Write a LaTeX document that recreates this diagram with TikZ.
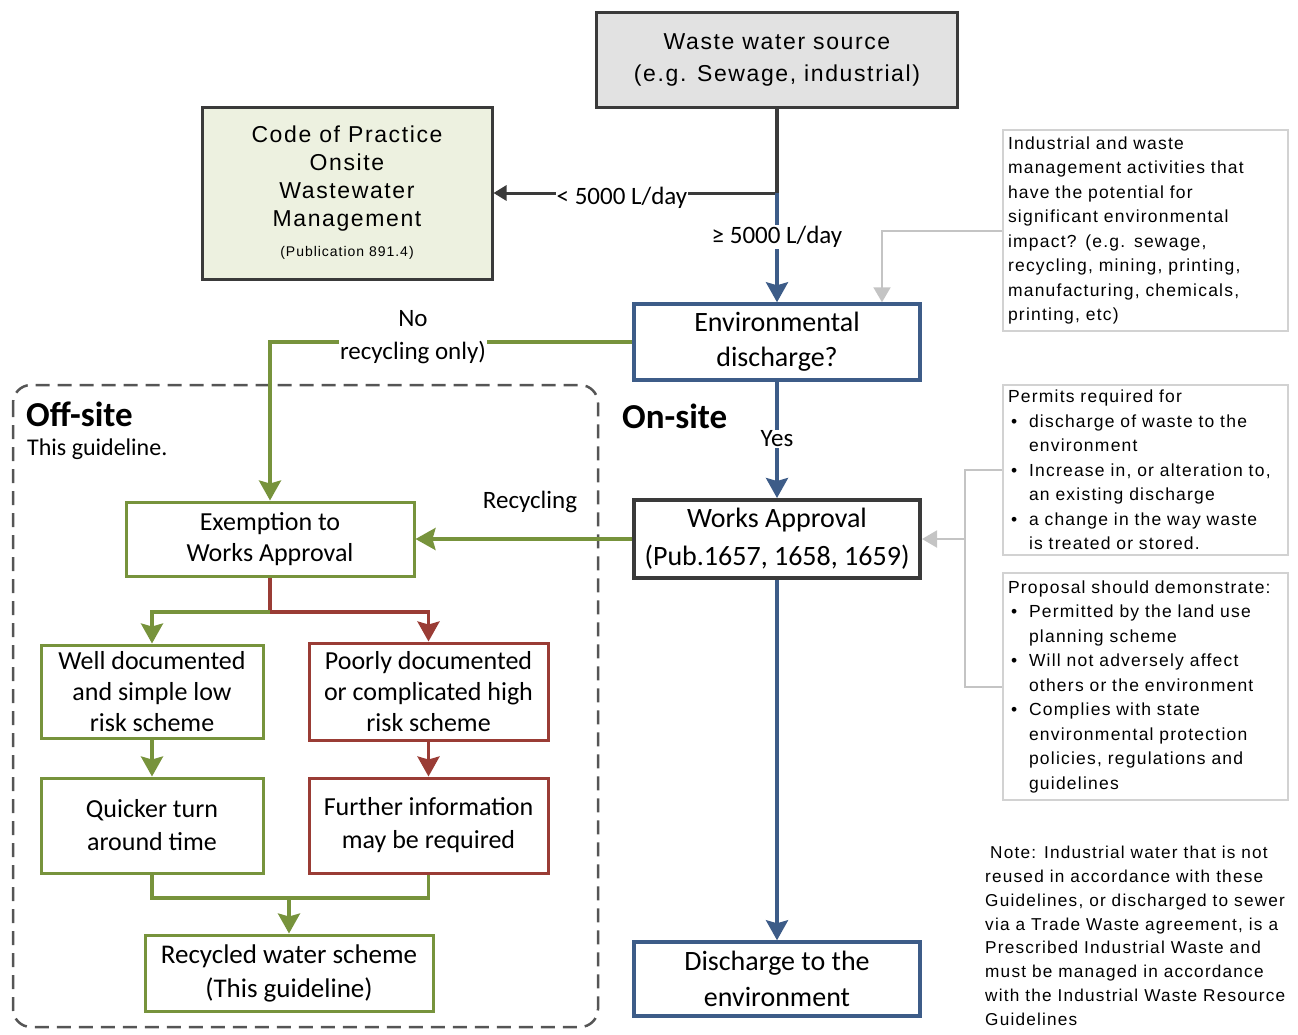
\documentclass[tikz,border=0pt]{standalone}
\usepackage{fontspec}
\setmainfont{Carlito}
\newfontfamily\arialf{Liberation Sans}[LetterSpace=7]
\usetikzlibrary{arrows.meta}
\definecolor{cblue}{HTML}{3D5C88}
\definecolor{cgreen}{HTML}{77933C}
\definecolor{cred}{HTML}{9A3C35}
\definecolor{cdark}{HTML}{3A3A3A}
\definecolor{cgrayline}{HTML}{C4C4C4}
\definecolor{cgraybox}{HTML}{D2D2D2}
\definecolor{cdash}{HTML}{555555}
\definecolor{cgrayfill}{HTML}{E2E2E2}
\definecolor{cgreenfill}{HTML}{EDF1E0}
\newcommand{\rbul}{\makebox[21pt][l]{\hspace{3pt}\textbullet}}
\newcommand{\rind}{\hspace*{21pt}}
\tikzset{
  box/.style={draw, align=center, inner sep=2pt, line width=3pt, text=black},
  bluebox/.style={box, draw=cblue},
  greenbox/.style={box, draw=cgreen},
  redbox/.style={box, draw=cred},
  darkbox/.style={box, draw=cdark},
  infobox/.style={draw=cgraybox, line width=2pt, align=left, inner sep=5pt, text width=275pt,
    font={\arialf\fontsize{17.5}{24.5}\selectfont}},
  conn/.style={line width=3.5pt},
  tip/.style={-{Stealth[length=20pt,width=22pt,inset=3pt]}},
  smalltip/.style={-{Triangle[length=13pt,width=15pt]}},
  graytip/.style={-{Triangle[length=15pt,width=17pt]}},
  greenline/.style={conn, draw=cgreen},
  redline/.style={conn, draw=cred},
  blueline/.style={conn, draw=cblue},
  darkline/.style={conn, draw=cdark},
  grayline/.style={line width=2pt, draw=cgrayline},
  lbl/.style={fill=white, inner sep=1pt, font={\fontsize{25}{33}\selectfont}, align=center},
  dashbox/.style={draw=cdash, line width=2.5pt, dash pattern=on 14pt off 8pt, rounded corners=18pt}
}
\begin{document}
\begin{tikzpicture}[x=1pt, y=-1pt]
\useasboundingbox (0,0) rectangle (1298,1034);

% dashed off-site region
\draw[dashbox] (13,385) rectangle (598,1027);

% main nodes
\node[darkbox, fill=cgrayfill, minimum width=361pt, minimum height=95pt,
  font={\arialf\fontsize{23}{32}\selectfont}] (src) at (777,59.5)
  {Waste water source\\(e.g. Sewage, industrial)};
\node[darkbox, fill=cgreenfill, minimum width=290pt, minimum height=172pt,
  font={\arialf\fontsize{23}{28}\selectfont}] (cop) at (347,193)
  {Code of Practice\\Onsite\\Wastewater\\Management\\[2pt]{\fontsize{14}{17}\selectfont (Publication 891.4)}};
\node[bluebox, line width=3.5pt, minimum width=286pt, minimum height=76pt,
  font={\fontsize{28}{35}\selectfont}] (env) at (777,342)
  {Environmental\\discharge?};
\node[darkbox, line width=4pt, minimum width=286pt, minimum height=78pt,
  font={\fontsize{28}{38}\selectfont}] (wa) at (777,539)
  {Works Approval\\(Pub.1657, 1658, 1659)};
\node[bluebox, line width=3.5pt, minimum width=286pt, minimum height=74pt,
  font={\fontsize{28}{36}\selectfont}] (dis) at (777,979)
  {Discharge to the\\environment};
\node[greenbox, minimum width=288pt, minimum height=74pt,
  font={\fontsize{26}{31}\selectfont}] (ex) at (270,539)
  {Exemption to\\Works Approval};
\node[greenbox, minimum width=222pt, minimum height=93pt,
  font={\fontsize{26}{31}\selectfont}] (well) at (152,691.5)
  {Well documented\\and simple low\\risk scheme};
\node[redbox, minimum width=239pt, minimum height=97pt,
  font={\fontsize{26}{31}\selectfont}] (poor) at (428.5,691.5)
  {Poorly documented\\or complicated high\\risk scheme};
\node[greenbox, minimum width=222pt, minimum height=95pt,
  font={\fontsize{26}{33}\selectfont}] (quick) at (152,825.5)
  {Quicker turn\\around time};
\node[redbox, minimum width=239pt, minimum height=95pt,
  font={\fontsize{26}{33}\selectfont}] (further) at (428.5,825.5)
  {Further information\\may be required};
\node[greenbox, minimum width=288pt, minimum height=76pt,
  font={\fontsize{27}{34}\selectfont}] (rec) at (289,973)
  {Recycled water scheme\\(This guideline)};

% info boxes
\node[infobox, minimum height=201pt] (r1) at (1145.5,230.5)
  {Industrial and waste\\management activities that\\have the potential for\\significant environmental\\impact? (e.g. sewage,\\recycling, mining, printing,\\manufacturing, chemicals,\\printing, etc)};
\node[infobox, minimum height=170pt] (r2) at (1145.5,470)
  {Permits required for\\\rbul discharge of waste to the\\\rind environment\\\rbul Increase in, or alteration to,\\\rind an existing discharge\\\rbul a change in the way waste\\\rind is treated or stored.};
\node[infobox, minimum height=227pt] (r3) at (1145.5,686.5)
  {Proposal should demonstrate:\\\rbul Permitted by the land use\\\rind planning scheme\\\rbul Will not adversely affect\\\rind others or the environment\\\rbul Complies with state\\\rind environmental protection\\\rind policies, regulations and\\\rind guidelines};
\node[anchor=north west, align=left, inner sep=0pt, font={\arialf\fontsize{17.2}{23.8}\selectfont}] (note) at (985,846)
  {\hspace*{5pt}Note: Industrial water that is not\\reused in accordance with these\\Guidelines, or discharged to sewer\\via a Trade Waste agreement, is a\\Prescribed Industrial Waste and\\must be managed in accordance\\with the Industrial Waste Resource\\Guidelines};

% region titles
\node[anchor=west, inner sep=0pt, font={\fontsize{35}{38}\selectfont\bfseries}] (offsite) at (26,414) {Off-site};
\node[anchor=west, inner sep=0pt, font={\fontsize{24}{27}\selectfont}] (offsub) at (27,449) {This guideline.};
\node[anchor=west, inner sep=0pt, font={\fontsize{35}{38}\selectfont\bfseries}] (onsite) at (622,416) {On-site};

% connectors
\coordinate (j1) at (777,193);
\coordinate (g1) at (882,0);
\coordinate (g2) at (965,0);
\coordinate (j2) at (270,612);
\coordinate (j3) at (289,898);

\draw[darkline] (src.south) -- (j1);
\draw[darkline, line width=3pt, smalltip] (j1) -- (cop.east);
\draw[blueline, tip] (j1) -- (env.north);
\draw[grayline, graytip] (r1.west) -| (env.north -| g1);
\draw[greenline, tip] (env.west) -| (ex.north);
\draw[blueline, tip] (env.south) -- (wa.north);
\draw[greenline, tip] (wa.west) -- (ex.east);
\draw[grayline] (r2.west) -- (r2.west -| g2) -- (r3.west -| g2) -- (r3.west);
\draw[grayline, graytip] (wa.east -| g2) -- (wa.east);
\draw[blueline, tip] (wa.south) -- (dis.north);
\draw[redline] (ex.south) -- (j2);
\draw[redline, tip] (j2) -| (poor.north);
\draw[greenline, tip] (j2) -| (well.north);
\draw[greenline, tip] (well.south) -- (quick.north);
\draw[redline, tip] (poor.south) -- (further.north);
\draw[greenline] (quick.south) |- (j3) -| (further.south);
\draw[greenline, tip] (j3) -- (rec.north);

% connector labels
\node[lbl] (llt) at (622,198) {< 5000 L/day};
\node[lbl] (lge) at (777,237) {≥ 5000 L/day};
\node[lbl] (lno) at (413,337) {No\\recycling only)};
\node[lbl] (lyes) at (777,439) {Yes};
\node[lbl, fill=none] (lrec) at (530,502) {Recycling};
\end{tikzpicture}
\end{document}
